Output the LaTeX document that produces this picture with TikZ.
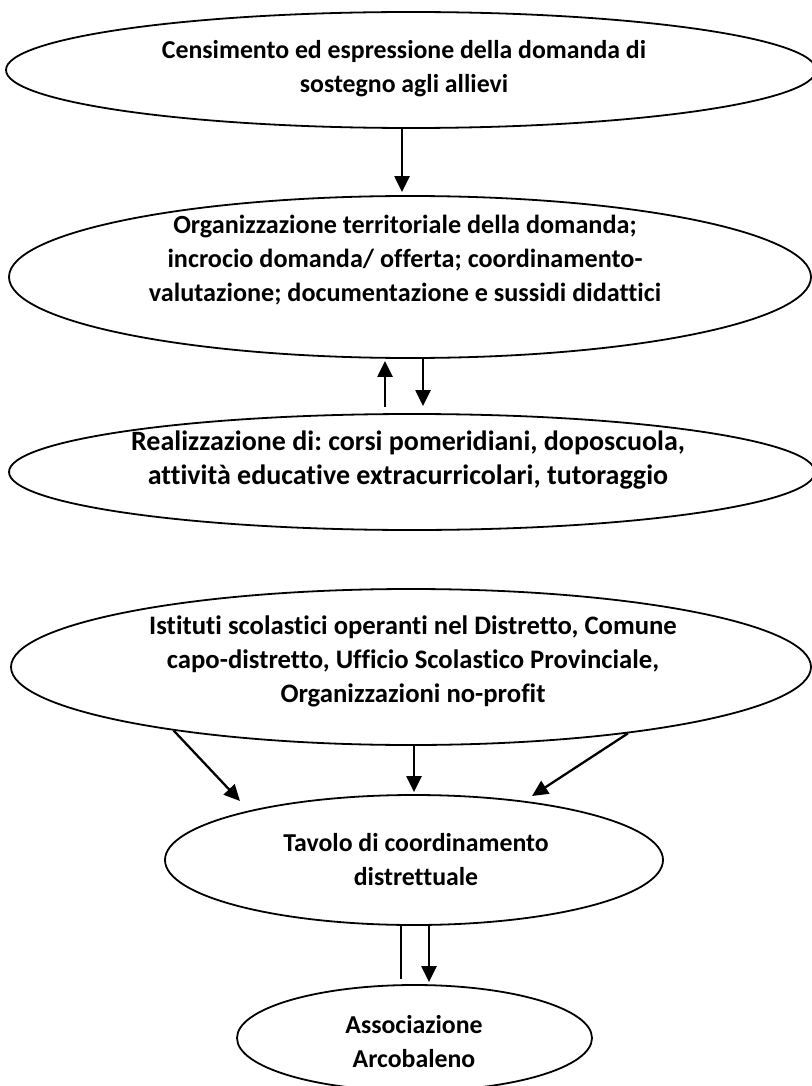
\documentclass[tikz,border=0pt]{standalone}
\usepackage{fontspec}
\setmainfont{Carlito}[Ligatures=NoCommon]
\frenchspacing
\usetikzlibrary{arrows.meta,shapes.geometric}
\begin{document}
\begin{tikzpicture}[x=1pt,y=-1pt,
  ell/.style={draw, ellipse, line width=1.8pt, inner sep=0pt},
  lbl/.style={font=\bfseries\fontsize{#1}{34}\selectfont, align=center, inner sep=0pt},
  lbl/.default=25.8,
  arr/.style={line width=2.3pt, -{Triangle[length=16pt,width=15pt]}},
  ln/.style={line width=2.3pt}]
\useasboundingbox (0,0) rectangle (811,1086);
% ellipses
\node[ell, minimum width=810pt, minimum height=116pt] (e1) at (411,70) {};
\node[ell, minimum width=802pt, minimum height=162pt] (e2) at (410,277) {};
\node[ell, minimum width=806pt, minimum height=116pt] (e3) at (412,472) {};
\node[ell, minimum width=800pt, minimum height=156pt] (e4) at (411,667) {};
\node[ell, minimum width=498pt, minimum height=130pt] (e5) at (414,860) {};
\node[ell, minimum width=355pt, minimum height=106pt] (e6) at (414.5,1038) {};
% texts
\node[lbl] (t1) at (404,69) {Censimento ed espressione della domanda di\\ sostegno agli allievi};
\node[lbl=26.2] (t2) at (405,260) {Organizzazione territoriale della domanda;\\ incrocio domanda/ offerta; coordinamento-\\ valutazione; documentazione e sussidi didattici};
\node[lbl=28] (t3) at (408,460) {Realizzazione di: corsi pomeridiani, doposcuola,\\ attività educative extracurricolari, tutoraggio};
\node[lbl=26.7] (t4) at (413,661) {Istituti scolastici operanti nel Distretto, Comune\\ capo-distretto, Ufficio Scolastico Provinciale,\\ Organizzazioni no-profit};
\node[lbl] (t5) at (416,860) {Tavolo di coordinamento\\ distrettuale};
\node[lbl] (t6) at (414,1042) {Associazione\\ Arcobaleno};
% connectors
\draw[arr, shorten >=3pt] ([xshift=-9pt]e1.south) -- ([xshift=-8pt]e2.north);
\draw[arr, shorten <=6pt, shorten >=2pt] ([xshift=-27pt]e3.north) -- ([xshift=-25pt]e2.south);
\draw[arr, shorten >=7pt] ([xshift=13pt]e2.south) -- ([xshift=11pt]e3.north);
\coordinate (tl) at (240,801);
\coordinate (tr) at (532,796);
\draw[arr] (e4.195) -- (tl);
\draw[arr, shorten >=2pt] (e5.north |- e4.south) -- (e5.north);
\draw[arr] (e4.343) -- (tr);
\draw[ln, shorten >=5pt] ([xshift=-13pt]e5.south) -- ([xshift=-13.5pt]e6.north);
\draw[arr, shorten >=2pt] ([xshift=15pt]e5.south) -- ([xshift=14.5pt]e6.north);
\end{tikzpicture}
\end{document}
